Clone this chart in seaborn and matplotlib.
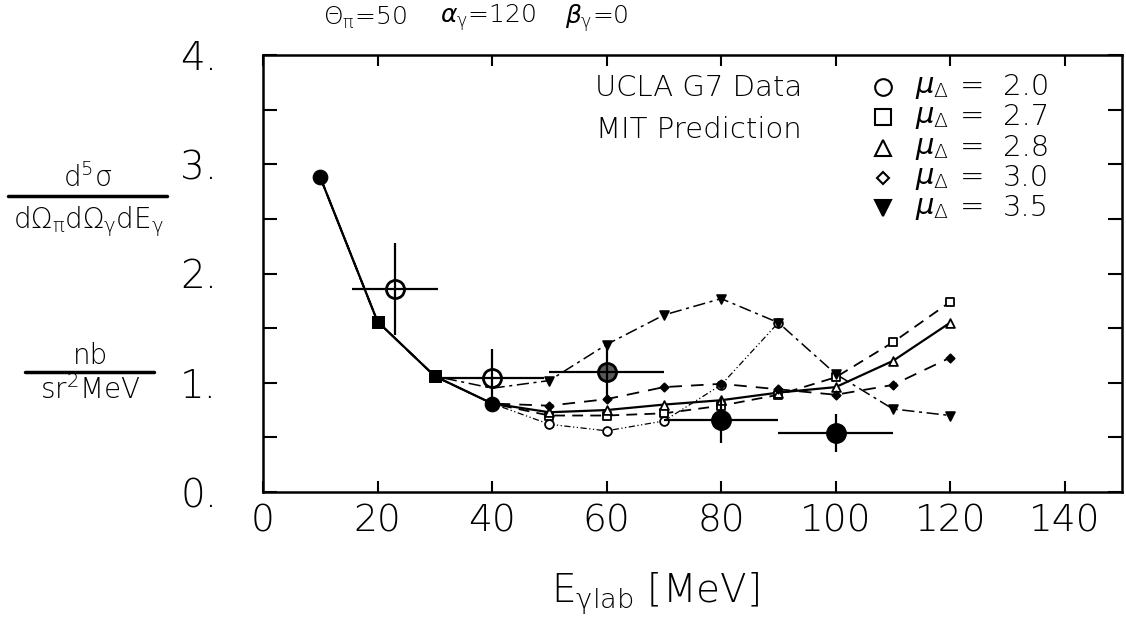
import numpy as np
import pandas as pd
import matplotlib
matplotlib.use("Agg")
import matplotlib.pyplot as plt
from matplotlib.lines import Line2D
import seaborn as sns

# ---------------- data ----------------
x_common = [10, 20, 30]
y_common = [2.88, 1.56, 1.06]

x_pred = [40, 50, 60, 70, 80, 90, 100, 110, 120]
mu20_y = [0.81, 0.62, 0.56, 0.65, 0.98, 1.55]          # ends at 90
mu27_y = [0.81, 0.70, 0.70, 0.72, 0.79, 0.89, 1.05, 1.37, 1.74]
mu28_y = [0.81, 0.73, 0.75, 0.80, 0.84, 0.91, 0.96, 1.20, 1.55]
mu30_y = [0.81, 0.79, 0.85, 0.96, 0.99, 0.94, 0.89, 0.98, 1.23]
mu35_y = [0.95, 1.02, 1.35, 1.62, 1.77, 1.55, 1.08, 0.76, 0.70]

data_x = [23, 40, 60, 80, 100]
data_y = [1.86, 1.04, 1.10, 0.66, 0.54]
data_xerr = [7.5, 9.0, 10.0, 10.0, 10.0]
data_yerr = [0.42, 0.27, 0.25, 0.21, 0.17]

legend_mu = ["2.0", "2.7", "2.8", "3.0", "3.5"]
x_ticks = [0, 20, 40, 60, 80, 100, 120, 140]
y_ticks = [0, 1, 2, 3, 4]

# ---------------- style ----------------
sns.set_theme(style="ticks")
plt.rcParams["font.family"] = ["DejaVu Sans"]
plt.rcParams["font.weight"] = "light"
plt.rcParams["mathtext.fontset"] = "custom"
plt.rcParams["mathtext.rm"] = "DejaVu Sans:light"
plt.rcParams["mathtext.it"] = "DejaVu Sans:italic"
plt.rcParams["mathtext.bf"] = "DejaVu Sans:bold"
plt.rcParams["mathtext.sf"] = "DejaVu Sans:light"
for k in ["text.color", "axes.labelcolor", "xtick.color", "ytick.color",
          "axes.edgecolor"]:
    plt.rcParams[k] = "black"

W, H = 1126, 633
fig = plt.figure(figsize=(W / 100, H / 100), dpi=100)
ax = fig.add_axes([263 / W, 1 - 492 / H, (1122 - 263) / W, (492 - 55) / H])


def fp(px, py):
    return px / W, 1 - py / H


curves = [
    (mu20_y, (0, (5, 2, 1, 2, 1, 2)), "o", "white", 0.9),
    (mu27_y, (0, (6, 4)), "s", "white", 1.3),
    (mu28_y, "-", "^", "white", 1.6),
    (mu30_y, (0, (7, 5)), "D", "black", 1.3),
    (mu35_y, (0, (8, 3, 2, 3)), "v", "black", 1.1),
]
for yv, ls, mk, fc, lw in curves:
    xs = x_common + x_pred[: len(yv)]
    ys = y_common + yv
    df = pd.DataFrame({"E": xs, "s": ys})
    sns.lineplot(data=df, x="E", y="s", ax=ax, color="black", linestyle=ls,
                 linewidth=lw, sort=False, estimator=None)
    sns.scatterplot(x=x_pred[1:len(yv)], y=yv[1:], ax=ax, marker=mk,
                    s=40 if mk != "D" else 18, facecolor=fc,
                    edgecolor="black", linewidth=1.3, zorder=4)

# common points
sns.scatterplot(x=[10, 40], y=[y_common[0], mu28_y[0]], ax=ax, marker="o",
                s=110, color="black", edgecolor="black", zorder=5)
sns.scatterplot(x=x_common[1:], y=y_common[1:], ax=ax, marker="s",
                s=80, color="black", edgecolor="black", zorder=5)

# data (UCLA G7)
faces = ["white", "white", "0.35", "black", "black"]
ax.errorbar(data_x, data_y, xerr=data_xerr, yerr=data_yerr, fmt="none",
            ecolor="black", elinewidth=1.6, capsize=0, zorder=6)
for x, y, f in zip(data_x, data_y, faces):
    ax.plot([x], [y], marker="o", markersize=13, markerfacecolor=f,
            markeredgecolor="black", markeredgewidth=2, zorder=5)
ax.errorbar(data_x[:2], data_y[:2], xerr=data_xerr[:2], yerr=data_yerr[:2],
            fmt="none", ecolor="black", elinewidth=1.2, capsize=0, zorder=7)

# axes
ax.set_xlim(0, 150)
ax.set_ylim(0, 4)
ax.set_xticks(x_ticks)
ax.set_xticklabels([str(t) for t in x_ticks])
ax.set_yticks(y_ticks)
ax.set_yticklabels([f"{t}." for t in y_ticks])
ax.set_yticks(np.arange(0.5, 4, 1.0), minor=True)
ax.tick_params(axis="x", which="major", direction="in", top=True, length=8,
               width=1.5, labelsize=27, pad=8, colors="black")
ax.tick_params(axis="y", which="both", direction="in", right=True, length=10,
               width=1.5, labelsize=28, pad=33, colors="black")
for sp in ax.spines.values():
    sp.set_visible(True)
    sp.set_linewidth(1.8)
    sp.set_color("black")
ax.set_xlabel("")
ax.set_ylabel("")
ax.set_facecolor("white")

# x label
fig.text(*fp(655, 594), r"E$_{\mathrm{\gamma lab}}$ [MeV]", fontsize=28,
         ha="center", va="center")

# title
fig.text(*fp(323, 18), r"$\mathrm{\Theta_\pi}$=50", fontsize=18, ha="left", va="center")
fig.text(*fp(440, 18), r"$\alpha_\mathrm{\gamma}$=120", fontsize=18, ha="left", va="center")
fig.text(*fp(565, 18), r"$\beta_\mathrm{\gamma}$=0", fontsize=18, ha="left", va="center")

# y label (two fractions)
fig.text(*fp(88, 178), r"d$^5\mathrm{\sigma}$", fontsize=20, ha="center", va="center")
fig.add_artist(Line2D([8 / W, 167 / W], [1 - 196 / H] * 2, color="black", lw=2.5))
fig.text(*fp(88, 222), r"d$\mathrm{\Omega_\pi}$d$\mathrm{\Omega_\gamma}$dE$_\mathrm{\gamma}$",
         fontsize=20, ha="center", va="center")
fig.text(*fp(90, 356), "nb", fontsize=20, ha="center", va="center")
fig.add_artist(Line2D([25 / W, 154 / W], [1 - 372 / H] * 2, color="black", lw=2.5))
fig.text(*fp(90, 390), r"sr$^2$MeV", fontsize=20, ha="center", va="center")

# legend block
fig.text(*fp(699, 88), "UCLA G7 Data", fontsize=21, ha="center", va="center")
fig.text(*fp(699, 130), "MIT Prediction", fontsize=21, ha="center", va="center")
leg_markers = [("o", "white", 12), ("s", "white", 12), ("^", "white", 12),
               ("D", "white", 6), ("v", "black", 12)]
for i, (lab, (mk, fc, ms)) in enumerate(zip(legend_mu, leg_markers)):
    py = 87 + i * 30.3
    fig.add_artist(Line2D([883 / W], [1 - py / H], marker=mk, markersize=ms,
                          markerfacecolor=fc, markeredgecolor="black",
                          markeredgewidth=1.5, linestyle="none"))
    fig.text(*fp(915, py), r"$\mu_\mathrm{\Delta}$", fontsize=21, ha="left", va="center")
    fig.text(*fp(972, py), "=", fontsize=21, ha="center", va="center")
    fig.text(*fp(1003, py), lab, fontsize=21, ha="left", va="center")

fig.savefig("out.png", dpi=100, facecolor="white")
